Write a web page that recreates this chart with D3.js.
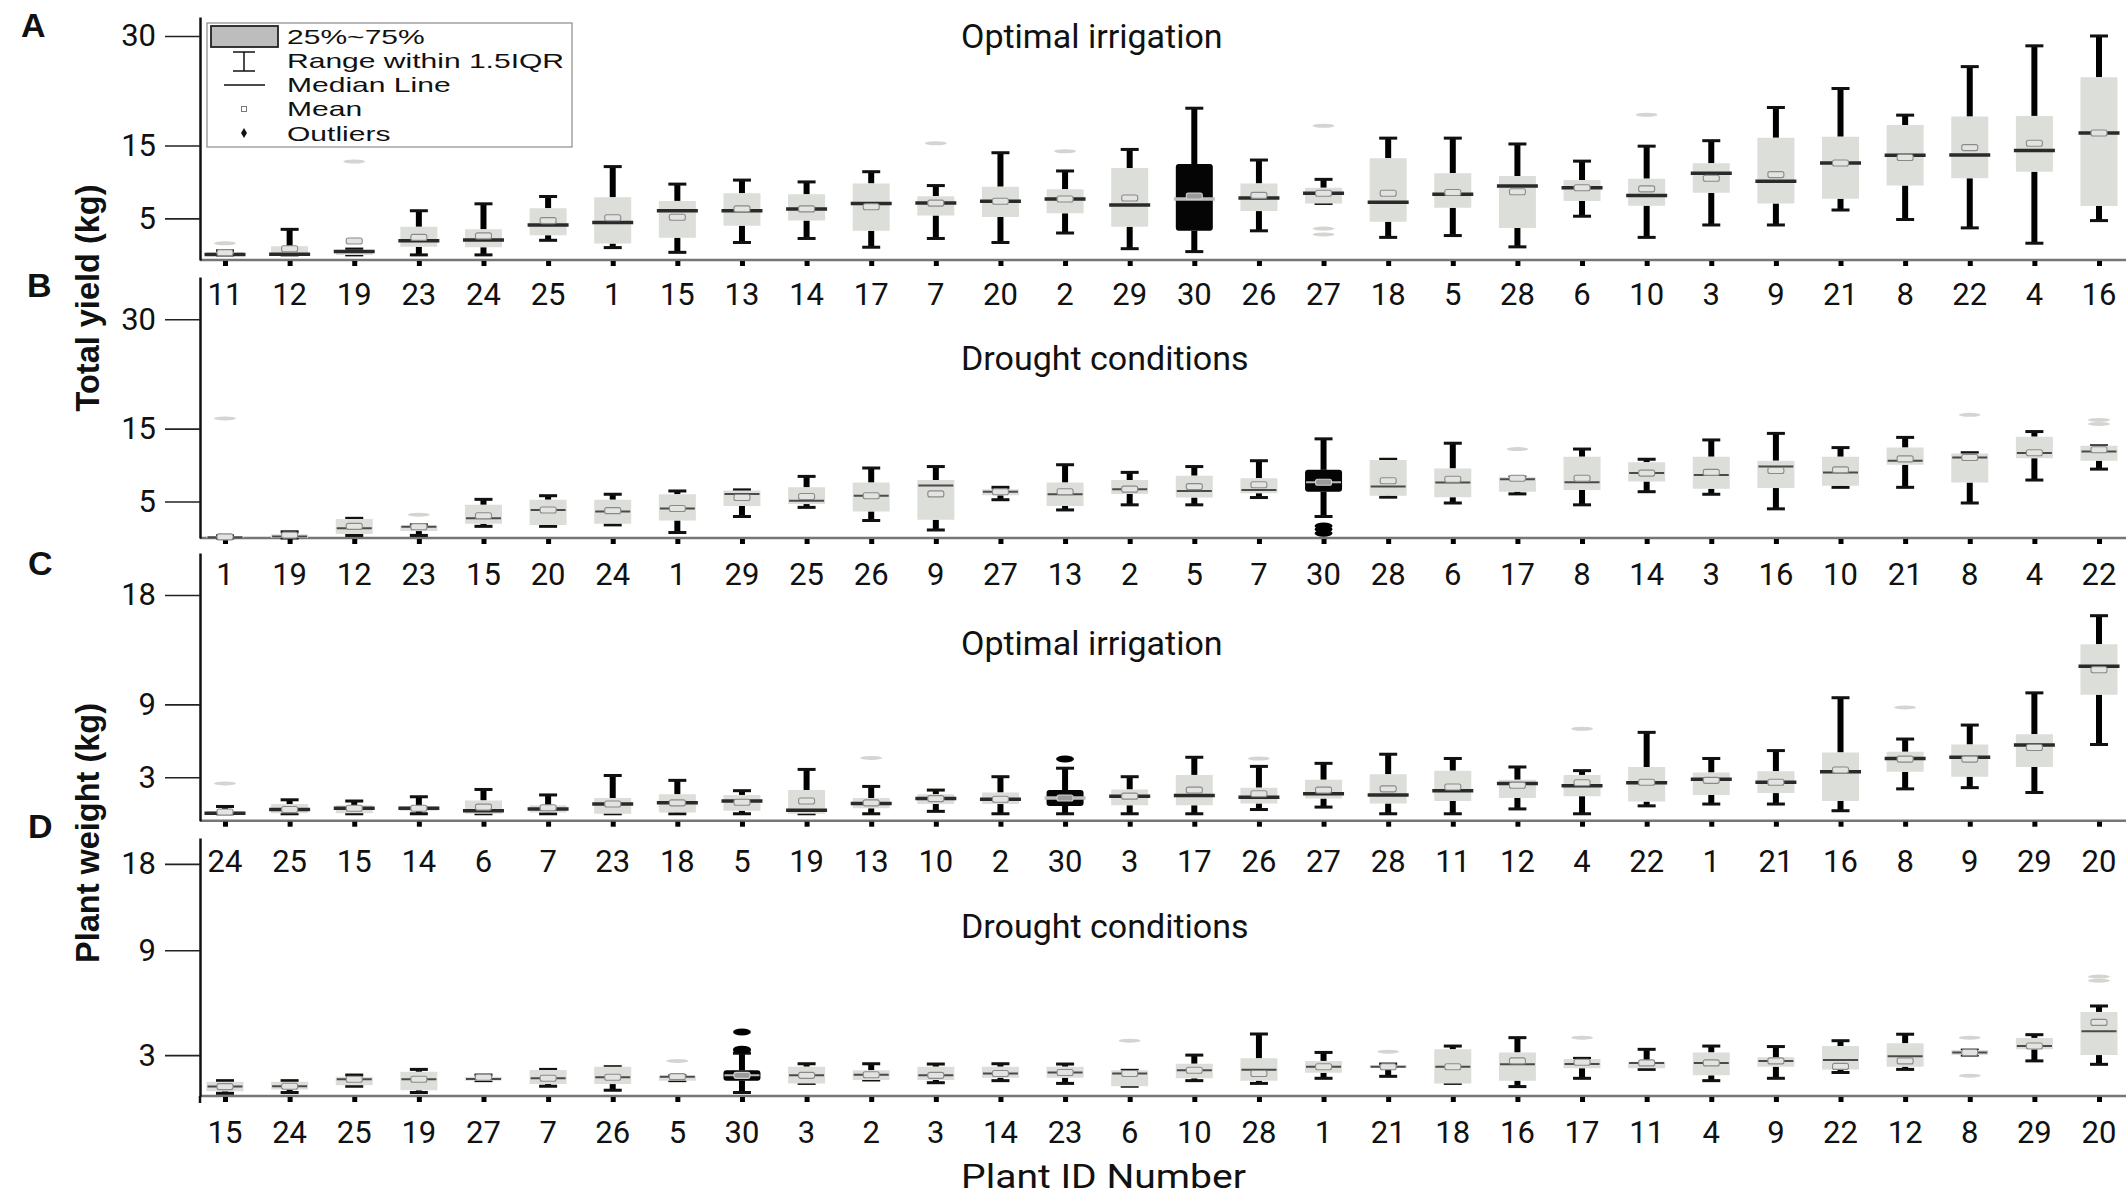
<!DOCTYPE html>
<html>
<head>
<meta charset="utf-8">
<script src="https://cdn.jsdelivr.net/npm/d3@7"></script>
<style>
  html, body { margin: 0; padding: 0; background: #fff; }
  svg { display: block; }
</style>
</head>
<body>
<svg id="chart" width="2126" height="1195"></svg>
<script>
// ---------- A: total yield, optimal irrigation ----------
const idsA   = [11,12,19,23,24,25,1,15,13,14,17,7,20,2,29,30,26,27,18,5,28,6,10,3,9,21,8,22,4,16];
const loA    = [0,0,0,0,0,2.0,1.0,0.35,1.7,2.25,1.05,2.25,1.7,3.0,0.85,0.45,3.3,7.05,2.4,2.65,1.1,5.3,2.4,4.1,4.1,6.15,4.85,3.7,1.6,4.7];
const q1A    = [0,0,0,1.1,1.05,2.7,1.55,2.35,4.0,4.7,3.3,5.4,5.2,5.7,3.85,3.3,6.0,7.05,4.55,6.45,3.7,7.4,6.75,8.5,7.05,7.7,9.5,10.5,11.4,6.7];
const medA   = [0.05,0.1,0.45,1.95,2.05,4.1,4.45,6.05,6.05,6.3,7.05,7.1,7.35,7.65,6.85,7.65,7.8,8.45,7.2,8.3,9.45,9.2,8.15,11.2,10.1,12.6,13.65,13.7,14.3,16.7];
const q3A    = [0.4,1.2,0.7,3.85,3.5,6.4,7.9,7.4,8.45,8.3,9.8,8.05,9.35,9.0,11.9,12.45,9.8,9.2,13.25,11.2,10.8,10.25,10.45,12.55,16.05,16.2,17.8,18.95,19.05,24.35];
const hiA    = [0.55,3.5,0.8,6.05,7.0,8.0,12.1,9.7,10.25,10.0,11.4,9.5,14.0,11.5,14.45,20.1,13.0,10.35,16.0,16.0,15.2,12.85,14.9,15.65,20.2,22.8,19.15,25.8,28.65,30.0];
const meanA  = [0.3,0.85,1.9,2.4,2.6,4.7,5.1,5.15,6.3,6.3,6.6,7.1,7.35,7.65,7.8,8.05,8.15,8.45,8.45,8.55,8.65,9.2,9.05,10.5,11.0,12.6,13.35,14.7,15.3,16.7];
const outA   = [[0,1.6],[2,12.8],[11,15.3],[13,14.2],[17,17.7],[17,3.6],[17,2.8],[22,19.2]];
const ticksA = [5,15,30];

// ---------- B: total yield, drought ----------
const idsB   = [1,19,12,23,15,20,24,1,29,25,26,9,27,13,2,5,7,30,28,6,17,8,14,3,16,10,21,8,4,22];
const loB    = [0,0,0.35,0.35,1.6,1.6,1.8,0.75,2.95,4.2,2.4,1.1,5.25,3.85,4.55,4.55,5.55,2.95,5.6,4.8,6.05,4.55,6.35,6.0,4.0,6.95,6.95,4.8,7.95,9.45];
const q1B    = [0,0,0.55,0.95,1.95,1.8,1.95,2.4,4.4,4.65,3.65,2.5,5.85,4.4,6.05,5.55,6.15,6.35,5.8,5.6,6.35,6.6,7.75,6.75,6.85,7.15,10.05,7.6,10.95,10.6];
const medB   = [0.1,0.2,1.35,1.55,2.7,3.85,3.65,4.05,6.05,5.1,5.8,7.2,6.35,6.0,6.7,6.45,6.6,7.65,7.05,7.6,8.05,7.65,8.9,8.65,9.8,9.0,10.6,11.05,11.65,11.85];
const q3B    = [0.2,0.5,2.6,1.7,4.55,5.25,5.25,6.0,6.5,6.95,7.6,7.95,6.7,7.6,7.95,8.55,8.2,9.35,10.7,9.55,8.35,11.15,10.4,11.15,10.6,11.15,12.4,11.6,13.9,12.65];
const hiB    = [0.3,0.85,2.7,1.8,5.3,5.8,6.0,6.45,6.6,8.45,9.6,9.8,6.95,10.05,9.0,9.8,10.6,13.6,10.8,13.0,8.35,12.2,10.8,13.45,14.35,12.4,13.8,11.7,14.6,12.65];
const meanB  = [0.15,0.4,1.6,1.55,3.05,3.85,3.75,4.05,5.55,5.7,5.8,6.05,6.35,6.35,6.7,7.05,7.3,7.65,7.85,8.05,8.2,8.2,8.9,9.0,9.25,9.35,10.85,11.05,11.7,12.1];
const outB   = [[0,16.4],[3,3.2],[17,1.65],[17,1.2],[17,0.65],[20,12.2],[27,16.9],[29,16.2],[29,15.65]];
const ticksB = [5,15,30];

// ---------- C: plant weight, optimal irrigation ----------
const idsC   = [24,25,15,14,6,7,23,18,5,19,13,10,2,30,3,17,26,27,28,11,12,4,22,1,21,16,8,9,29,20];
const loC    = [0,0,0,0,0,0,0,0,0,0,0,0.2,0,0,0,0,0.35,0.55,0,0,0.4,0,0.65,0.8,0.8,0.25,2.05,2.15,1.75,5.7];
const q1C    = [0,0.05,0.05,0.25,0,0.1,0,0.1,0.25,0,0.45,0.8,0.8,0.65,0.7,0.7,0.85,1.25,0.85,1.05,1.3,1.45,1.0,1.55,1.7,1.05,3.45,3.05,3.85,9.8];
const medC   = [0.05,0.35,0.45,0.45,0.25,0.4,0.8,0.9,1.05,0.3,0.85,1.25,1.2,1.3,1.45,1.5,1.35,1.65,1.55,1.9,2.5,2.3,2.55,2.85,2.6,3.45,4.55,4.65,5.65,12.15];
const q3C    = [0.2,0.8,0.7,0.65,1.1,0.7,1.3,1.6,1.55,1.95,1.3,1.6,1.75,1.95,2.0,3.2,2.15,2.8,3.25,3.55,2.8,3.2,3.85,3.4,3.5,5.05,5.1,5.7,6.55,13.95];
const hiC    = [0.6,1.15,1.05,1.4,2.0,1.55,3.15,2.75,1.9,3.65,2.25,1.95,3.05,3.75,3.05,4.65,3.9,4.15,4.9,4.55,3.85,3.55,6.7,4.55,5.2,9.55,6.15,7.3,9.95,16.3];
const meanC  = [0.15,0.35,0.45,0.45,0.55,0.5,0.8,0.9,0.95,1.05,0.9,1.25,1.2,1.3,1.45,1.95,1.65,1.95,2.05,2.2,2.35,2.55,2.6,2.75,2.6,3.6,4.5,4.5,5.45,11.85];
const outC   = [[0,2.5],[10,4.6],[13,4.5],[16,4.55],[21,7.0],[26,8.75]];
const ticksC = [3,9,18];

// ---------- D: plant weight, drought ----------
const idsD   = [15,24,25,19,27,7,26,5,30,3,2,3,14,23,6,10,28,1,21,18,16,17,11,4,9,22,12,8,29,20];
const loD    = [1.8,1.82,1.99,1.82,2.15,1.99,1.88,2.15,1.82,2.07,2.17,2.09,2.15,2.07,1.99,2.15,2.07,2.22,2.28,2.07,1.98,2.22,2.5,2.15,2.22,2.4,2.5,3.0,2.79,2.67];
const q1D    = [1.85,1.9,2.02,1.88,2.15,2.05,2.05,2.15,2.15,2.07,2.17,2.17,2.24,2.24,1.99,2.22,2.15,2.39,2.55,2.07,2.15,2.54,2.54,2.31,2.59,2.5,2.59,3.0,3.22,3.0];
const medD   = [1.98,1.99,2.19,2.19,2.2,2.22,2.25,2.27,2.31,2.31,2.33,2.31,2.37,2.4,2.37,2.47,2.49,2.59,2.59,2.59,2.67,2.68,2.72,2.72,2.79,2.82,2.96,3.1,3.35,3.98];
const q3D    = [2.12,2.12,2.27,2.42,2.27,2.48,2.59,2.3,2.47,2.59,2.47,2.59,2.59,2.59,2.47,2.69,2.88,2.79,2.64,3.22,3.1,2.86,2.76,3.1,2.92,3.35,3.46,3.19,3.69,4.93];
const hiD    = [2.15,2.15,2.32,2.5,2.32,2.5,2.59,2.3,3.07,2.69,2.69,2.68,2.69,2.68,2.47,3.0,3.86,3.1,2.68,3.35,3.7,2.88,3.22,3.35,3.33,3.57,3.85,3.19,3.83,5.25];
const meanD  = [1.98,1.99,2.19,2.19,2.25,2.22,2.25,2.27,2.31,2.31,2.33,2.31,2.37,2.4,2.37,2.47,2.37,2.59,2.59,2.59,2.79,2.74,2.72,2.72,2.79,2.6,2.79,3.1,3.35,4.4];
const outD   = [[7,2.79],[8,3.95],[8,3.22],[8,3.18],[14,3.57],[18,3.13],[21,3.7],[27,3.7],[27,2.3],[29,7.05],[29,6.78]];
const ticksD = [3,9,18];

const legendItems = ["25%~75%", "Range within 1.5IQR", "Median Line", "Mean", "Outliers"];

// ---------- layout ----------
const svg = d3.select("#chart");
const plotLeft = 200, plotRight = 2126;
const x = d3.scalePoint().domain(d3.range(idsA.length)).range([225, 2099]);
const boxW = 37, capW = 18;

const panels = [
  { letter: "A", ids: idsA, lo: loA, q1: q1A, med: medA, q3: q3A, hi: hiA, mean: meanA, out: outA, ticks: ticksA,
    title: "Optimal irrigation", y: d3.scaleLinear().domain([-0.7, 32.6]).range([260, 17]),
    labelY: 305, titleY: 48, letterX: 21, letterY: 37, thin: false, axisExtra: 0 },
  { letter: "B", ids: idsB, lo: loB, q1: q1B, med: medB, q3: q3B, hi: hiB, mean: meanB, out: outB, ticks: ticksB,
    title: "Drought conditions", y: d3.scaleLinear().domain([0, 35.8]).range([538, 277]),
    labelY: 585, titleY: 370, letterX: 27, letterY: 297, thin: true, axisExtra: 0 },
  { letter: "C", ids: idsC, lo: loC, q1: q1C, med: medC, q3: q3C, hi: hiC, mean: meanC, out: outC, ticks: ticksC,
    title: "Optimal irrigation", y: d3.scaleLinear().domain([-0.57, 21.46]).range([820.7, 553]),
    labelY: 872, titleY: 655, letterX: 28, letterY: 575, thin: false, axisExtra: 0 },
  { letter: "D", ids: idsD, lo: loD, q1: q1D, med: medD, q3: q3D, hi: hiD, mean: meanD, out: outD, ticks: ticksD,
    title: "Drought conditions", y: d3.scalePow().exponent(0.3).domain([1.73, 21.6]).range([1096, 838]),
    labelY: 1143, titleY: 938, letterX: 28, letterY: 838, thin: true, axisExtra: 7 }
];

const numFont = "Roboto, 'Noto Sans', sans-serif";
const boldFont = "'Liberation Sans', Arial, sans-serif";

panels.forEach(p => {
  const g = svg.append("g").attr("class", "panel-" + p.letter);
  const y = p.y;
  const base = y.range()[0];

  // panel title
  g.append("text")
    .attr("x", 961).attr("y", p.titleY)
    .attr("font-family", numFont).attr("font-size", 34).attr("fill", "#111")
    .text(p.title);

  // panel letter
  g.append("text")
    .attr("x", p.letterX).attr("y", p.letterY)
    .attr("font-family", boldFont).attr("font-weight", "bold").attr("font-size", 34).attr("fill", "#111")
    .text(p.letter);

  // baseline
  g.append("line")
    .attr("x1", plotLeft).attr("x2", plotRight).attr("y1", base).attr("y2", base)
    .attr("stroke", "#767676").attr("stroke-width", 2.5);

  // small category ticks under the baseline
  const xAxis = g.append("g").attr("transform", `translate(0,${base + 1})`)
    .call(d3.axisBottom(x).tickSize(5).tickFormat(""));
  xAxis.select(".domain").remove();
  xAxis.selectAll(".tick line").attr("stroke", "#000").attr("stroke-width", 5);

  // y axis
  const yAxis = g.append("g").attr("transform", `translate(${plotLeft},0)`)
    .call(d3.axisLeft(y).tickValues(p.ticks).tickSize(35).tickSizeOuter(0).tickPadding(9).tickFormat(d3.format("d")));
  yAxis.select(".domain").attr("stroke", "#111").attr("stroke-width", 2.5);
  yAxis.selectAll(".tick line").attr("stroke", "#222").attr("stroke-width", 1.6);
  yAxis.selectAll(".tick text").attr("font-family", numFont).attr("font-size", 31).attr("fill", "#111");
  if (p.axisExtra) {
    g.append("line").attr("x1", plotLeft).attr("x2", plotLeft)
      .attr("y1", base).attr("y2", base + p.axisExtra)
      .attr("stroke", "#111").attr("stroke-width", 2.5);
  }

  // category labels
  g.append("g").selectAll("text").data(p.ids).join("text")
    .attr("x", (d, i) => x(i)).attr("y", p.labelY)
    .attr("text-anchor", "middle")
    .attr("font-family", numFont).attr("font-size", 31).attr("fill", "#111")
    .text(d => d);

  // boxes
  const boxes = g.append("g").selectAll("g").data(p.ids).join("g")
    .attr("transform", (d, i) => `translate(${x(i)},0)`);

  boxes.each(function(id, i) {
    const b = d3.select(this);
    const dark = id === 30;
    const yq1 = y(p.q1[i]), yq3 = y(p.q3[i]);
    const yhi = y(p.hi[i]), ylo = y(p.lo[i]);

    // whisker stems
    if (p.hi[i] > p.q3[i]) {
      b.append("line").attr("x1", 0).attr("x2", 0).attr("y1", yq3).attr("y2", yhi)
        .attr("stroke", "#000").attr("stroke-width", 6);
    }
    if (p.lo[i] < p.q1[i]) {
      b.append("line").attr("x1", 0).attr("x2", 0).attr("y1", yq1).attr("y2", ylo)
        .attr("stroke", "#000").attr("stroke-width", 6);
    }
    // caps
    [yhi, ylo].forEach(cy => {
      b.append("rect").attr("x", -capW / 2).attr("y", cy - 1.5).attr("width", capW).attr("height", 3)
        .attr("fill", "#111");
    });

    // interquartile box
    b.append("rect")
      .attr("x", -boxW / 2).attr("y", yq3)
      .attr("width", boxW).attr("height", Math.max(1, yq1 - yq3))
      .attr("rx", dark ? 3 : 0.5)
      .attr("fill", dark ? "#050505" : "#dcded9");

    // median
    const mw = p.thin ? boxW / 2 - 1 : boxW / 2 + 2;
    b.append("line")
      .attr("x1", -mw).attr("x2", mw).attr("y1", y(p.med[i])).attr("y2", y(p.med[i]))
      .attr("stroke", dark ? "#bdbdbd" : (p.thin ? "#4a4a4a" : "#2a2a2a"))
      .attr("stroke-width", p.thin ? 2 : 3.5);

    // mean
    b.append("rect")
      .attr("x", -8).attr("y", y(p.mean[i]) - 3).attr("width", 16).attr("height", 6).attr("rx", 2)
      .attr("fill", dark ? "#9a9a9a" : "#e3e4e1")
      .attr("stroke", dark ? "#d0d0d0" : "#8a8a8a").attr("stroke-width", 1.1);
  });

  // outliers
  g.append("g").selectAll("ellipse").data(p.out).join("ellipse")
    .attr("cx", d => x(d[0])).attr("cy", d => y(d[1]))
    .attr("rx", d => p.ids[d[0]] === 30 ? 9 : 11)
    .attr("ry", d => p.ids[d[0]] === 30 ? 3.5 : 2)
    .attr("fill", d => p.ids[d[0]] === 30 ? "#000" : "#d3d5d1");
});

// y-axis titles
[["Total yield (kg)", 298], ["Plant weight (kg)", 833]].forEach(([t, cy]) => {
  svg.append("text")
    .attr("transform", `translate(99,${cy}) rotate(-90)`)
    .attr("text-anchor", "middle")
    .attr("font-family", boldFont).attr("font-weight", "bold").attr("font-size", 32.5).attr("fill", "#111")
    .text(t);
});

// x-axis title
svg.append("text")
  .attr("x", 961).attr("y", 1188)
  .attr("font-family", numFont).attr("font-size", 33).attr("fill", "#111")
  .attr("textLength", 285).attr("lengthAdjust", "spacingAndGlyphs")
  .text("Plant ID Number");

// legend
const lg = svg.append("g").attr("class", "legend");
lg.append("rect").attr("x", 207).attr("y", 23).attr("width", 365).attr("height", 124)
  .attr("fill", "#fff").attr("stroke", "#8a8a8a").attr("stroke-width", 1.2);
lg.append("rect").attr("x", 211).attr("y", 26).attr("width", 67).attr("height", 21)
  .attr("fill", "#bdbdbd").attr("stroke", "#222").attr("stroke-width", 1.8);
// whisker symbol
lg.append("line").attr("x1", 244).attr("x2", 244).attr("y1", 52).attr("y2", 71).attr("stroke", "#111").attr("stroke-width", 1.5);
lg.append("line").attr("x1", 233).attr("x2", 255).attr("y1", 52).attr("y2", 52).attr("stroke", "#111").attr("stroke-width", 1.5);
lg.append("line").attr("x1", 233).attr("x2", 255).attr("y1", 71).attr("y2", 71).attr("stroke", "#111").attr("stroke-width", 1.5);
// median symbol
lg.append("line").attr("x1", 224).attr("x2", 265).attr("y1", 85).attr("y2", 85).attr("stroke", "#111").attr("stroke-width", 1.5);
// mean symbol
lg.append("rect").attr("x", 241.5).attr("y", 106.5).attr("width", 5).attr("height", 5)
  .attr("fill", "#fff").attr("stroke", "#777").attr("stroke-width", 1);
// outlier symbol
lg.append("path").attr("d", d3.symbol(d3.symbolDiamond, 30)()).attr("transform", "translate(244,133)").attr("fill", "#111");

lg.selectAll("text.item").data(legendItems).join("text")
  .attr("class", "item")
  .attr("transform", (d, i) => `translate(287,${43.5 + i * 24.3}) scale(1.43,1)`)
  .attr("font-family", "'Liberation Sans', Arial, sans-serif").attr("font-size", 21).attr("fill", "#111")
  .text(d => d);
</script>
</body>
</html>
